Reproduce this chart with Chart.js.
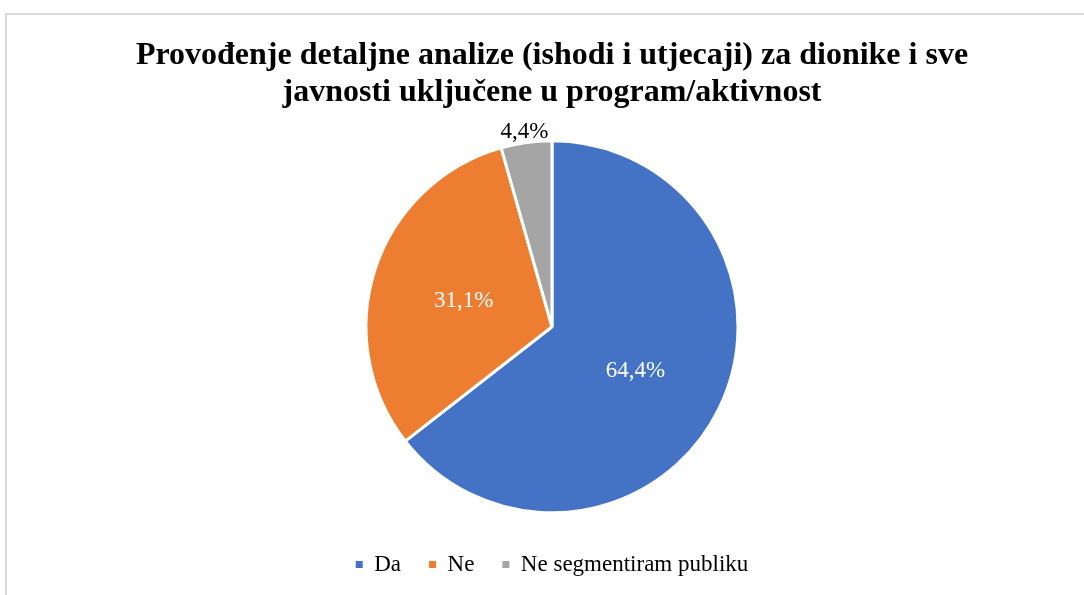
<!DOCTYPE html>
<html>
<head>
<meta charset="utf-8">
<script src="https://cdn.jsdelivr.net/npm/chart.js@4.4.1/dist/chart.umd.min.js"></script>
<style>
  html, body { margin: 0; padding: 0; background: #ffffff; }
  #wrap { position: relative; width: 1084px; height: 595px; overflow: hidden; }
  #frame { position: absolute; left: 5px; top: 13px; width: 1100px; height: 600px;
           border-left: 2px solid #d9d9d9; border-top: 2px solid #d9d9d9; box-sizing: border-box; }
  canvas { position: absolute; left: 0; top: 0; }
</style>
</head>
<body>
<div id="wrap">
  <div id="frame"></div>
  <canvas id="c" width="1084" height="595"></canvas>
</div>
<script>
const titleLines = ["Provođenje detaljne analize (ishodi i utjecaji) za dionike i sve", "javnosti uključene u program/aktivnost"];
const categories = ["Da", "Ne", "Ne segmentiram publiku"];
const values = [64.4, 31.1, 4.4];
const valueLabels = ["64,4%", "31,1%", "4,4%"];
const colors = ["#4472C4", "#ED7D31", "#A5A5A5"];
const labelColors = ["#ffffff", "#ffffff", "#000000"];
const labelOutside = [false, false, true];

const serif = "'Liberation Serif', 'Times New Roman', serif";

const pieLabels = {
  id: 'pieLabels',
  afterDatasetsDraw(chart) {
    const ctx = chart.ctx;
    const meta = chart.getDatasetMeta(0);
    ctx.save();
    ctx.font = "23px " + serif;
    ctx.textAlign = 'center';
    ctx.textBaseline = 'middle';
    meta.data.forEach((arc, i) => {
      const p = arc.getProps(['x', 'y', 'startAngle', 'endAngle', 'outerRadius'], true);
      const mid = (p.startAngle + p.endAngle) / 2;
      const r = labelOutside[i] ? p.outerRadius + 14 : p.outerRadius * 0.5;
      ctx.fillStyle = labelColors[i];
      ctx.fillText(valueLabels[i], p.x + Math.cos(mid) * r, p.y + Math.sin(mid) * r + 3);
    });
    ctx.restore();
  }
};

new Chart(document.getElementById('c'), {
  type: 'pie',
  data: {
    labels: categories,
    datasets: [{
      data: values,
      backgroundColor: colors,
      borderColor: '#ffffff',
      borderWidth: 3,
      radius: 186
    }]
  },
  options: {
    responsive: false,
    animation: false,
    events: [],
    layout: { padding: { top: 13.6, left: 20, right: 0, bottom: 9 } },
    plugins: {
      title: {
        display: true,
        text: titleLines,
        color: '#000000',
        font: { family: serif, size: 32, weight: 'bold', lineHeight: 1.15 },
        padding: { top: 24, bottom: 17.3 }
      },
      legend: {
        position: 'bottom',
        labels: {
          color: '#000000',
          font: { family: serif, size: 23 },
          boxWidth: 7,
          boxHeight: 7,
          padding: 28,
          generateLabels(chart) {
            const items = Chart.overrides.pie.plugins.legend.labels.generateLabels(chart);
            items.forEach(it => { it.lineWidth = 0; it.strokeStyle = 'rgba(0,0,0,0)'; });
            return items;
          }
        }
      },
      tooltip: { enabled: false }
    }
  },
  plugins: [pieLabels]
});
</script>
</body>
</html>
